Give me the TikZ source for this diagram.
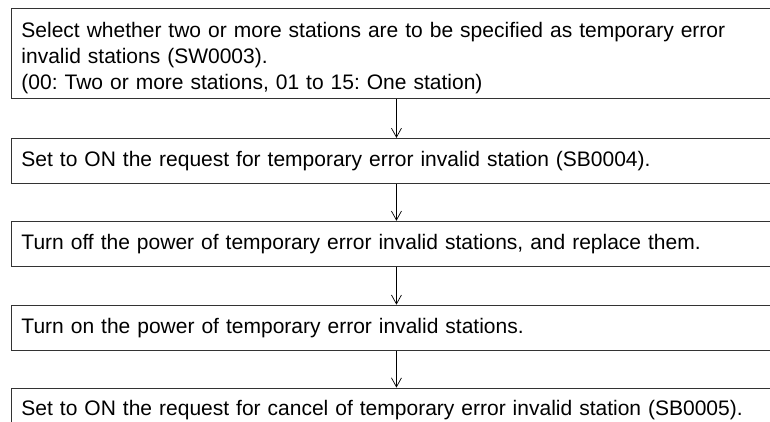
\documentclass[tikz,border=0pt]{standalone}
\usepackage{fontspec}
\setmainfont{Liberation Sans}
\frenchspacing
\usetikzlibrary{arrows.meta,positioning}

\begin{document}
\begin{tikzpicture}[node distance=38pt,every node/.style={font=\fontsize{21}{26}\selectfont},
  stepbox/.style={draw=black!80,line width=0.9pt,minimum width=770pt,minimum height=45pt,text width=750pt,inner xsep=10pt,align=left},
  arr/.style={-{Straight Barb[length=9pt,width=10pt]},line width=0.7pt}]
\path[use as bounding box,clip] (0,0) rectangle (770pt,-422pt);
\node[stepbox,text height=24.5pt,text depth=56.5pt,inner ysep=4.5pt,anchor=north west] (sel) at (11pt,-8pt) {Select whether two or more stations are to be specified as temporary error\\invalid stations (SW0003).\\(00: Two or more stations, 01 to 15: One station)};
\node[stepbox,below=39pt of sel] (req) {Set to ON the request for temporary error invalid station (SB0004).};
\node[stepbox,below=37pt of req] (off) {Turn off the power of temporary error invalid stations, and replace them.};
\node[stepbox,below=38pt of off] (on) {Turn on the power of temporary error invalid stations.};
\node[stepbox,below=37pt of on] (cancel) {Set to ON the request for cancel of temporary error invalid station (SB0005).};
\draw[arr] (sel)--(req);\draw[arr] (req)--(off);
\draw[arr] (off)--(on);\draw[arr] (on)--(cancel);
\end{tikzpicture}
\end{document}
